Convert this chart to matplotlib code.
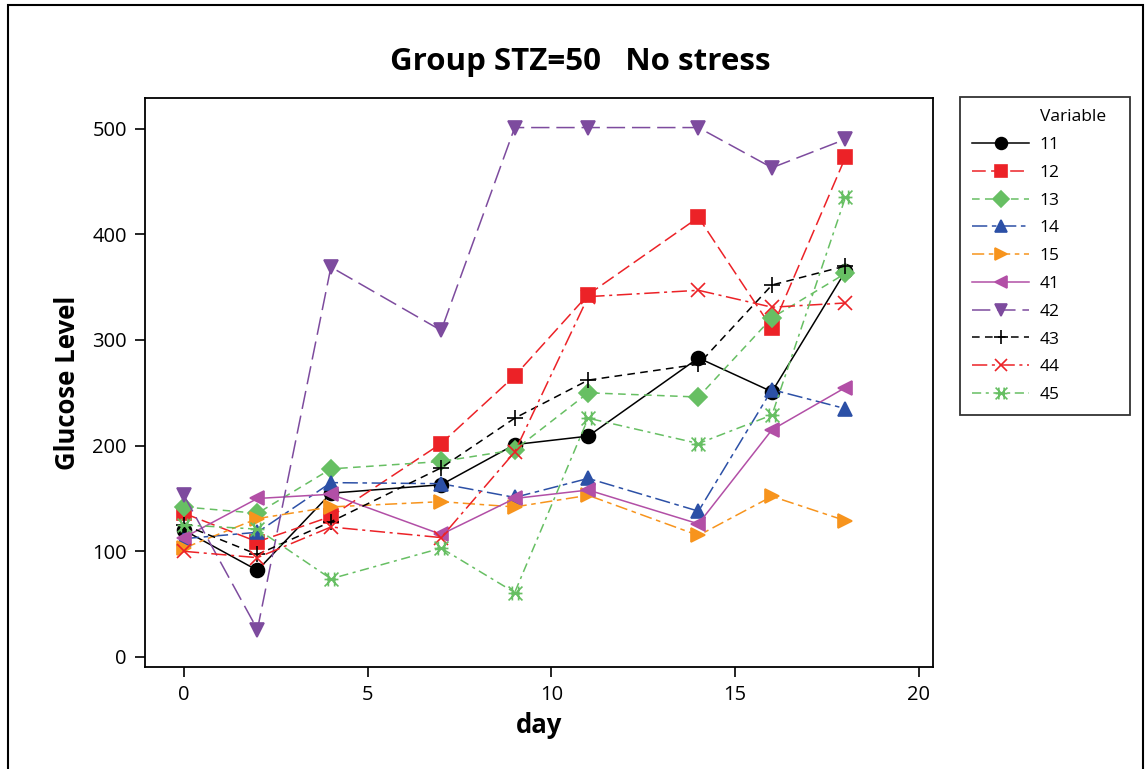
import matplotlib
matplotlib.use("Agg")
import matplotlib.pyplot as plt
from matplotlib.path import Path
from matplotlib.lines import Line2D
from matplotlib.patches import Rectangle

plt.rcParams['font.family'] = ['Open Sans', 'DejaVu Sans']

days = [0, 2, 4, 7, 9, 11, 14, 16, 18]
variables = ['11', '12', '13', '14', '15', '41', '42', '43', '44', '45']

glucose_11 = [120, 82, 155, 163, 201, 209, 283, 251, 365]
glucose_12 = [136, 109, 133, 202, 266, 343, 416, 311, 473]
glucose_13 = [142, 136, 178, 185, 196, 250, 246, 321, 363]
glucose_14 = [112, 118, 165, 164, 151, 169, 138, 253, 235]
glucose_15 = [103, 131, 142, 147, 142, 153, 115, 152, 129]
glucose_41 = [113, 150, 154, 116, 150, 158, 126, 215, 255]
glucose_42 = [153, 26, 369, 309, 501, 501, 501, 463, 490]
glucose_43 = [125, 97, 128, 179, 226, 262, 277, 352, 370]
glucose_44 = [100, 94, 123, 113, 194, 341, 347, 331, 335]
glucose_45 = [125, 121, 74, 103, 61, 226, 202, 229, 435]

series = [glucose_11, glucose_12, glucose_13, glucose_14, glucose_15,
          glucose_41, glucose_42, glucose_43, glucose_44, glucose_45]

# asterisk-like symbol: an X with a bar through the middle and side brackets
ast_verts = [(-1, -1), (1, 1), (-1, 1), (1, -1), (-1, 0), (1, 0),
             (-0.45, -1), (-0.45, 1), (0.45, -1), (0.45, 1)]
ast_codes = [Path.MOVETO, Path.LINETO] * 5
ast_marker = Path(ast_verts, ast_codes)

styles = [
    dict(color='black', marker='o', ls='-', ms=10),
    dict(color='#ec2227', marker='s', ls=(0, (9, 3.5)), ms=10),
    dict(color='#67bf63', marker='D', ls=(0, (5, 3.5)), ms=9),
    dict(color='#2c50a6', marker='^', ls=(0, (10, 3, 3, 3)), ms=10),
    dict(color='#f7941d', marker='>', ls=(0, (8, 3, 3, 3)), ms=10),
    dict(color='#b24fa6', marker='<', ls='-', ms=10),
    dict(color='#7d4b9e', marker='v', ls=(0, (12, 4.5)), ms=10),
    dict(color='black', marker='+', ls=(0, (5, 3.5)), ms=12),
    dict(color='#ec2227', marker='x', ls=(0, (10, 3, 2, 3)), ms=10),
    dict(color='#67bf63', marker=ast_marker, ls=(0, (6, 3, 2, 3)), ms=10),
]

fig = plt.figure(figsize=(11.45, 7.69), dpi=100)
ax = fig.add_axes([0.1266, 0.1326, 0.6882, 0.7400])

handles = []
for name, vals, st in zip(variables, series, styles):
    line, = ax.plot(days, vals, color=st['color'], linestyle=st['ls'],
                    linewidth=1.1, marker=st['marker'], markersize=st['ms'],
                    markerfacecolor=st['color'], markeredgecolor=st['color'],
                    markeredgewidth=1.2, label=name)
    handles.append(line)

ax.set_xlim(-1.06, 20.38)
ax.set_ylim(-9.5, 529)
ax.set_xticks([0, 5, 10, 15, 20])
ax.set_yticks([0, 100, 200, 300, 400, 500])
ax.tick_params(axis='both', direction='out', length=7, width=1.2,
               labelsize=14.5, pad=6, top=False, right=False)
for sp in ax.spines.values():
    sp.set_linewidth(1.3)

ax.set_xlabel('day', fontsize=18.5, fontweight='bold', labelpad=5)
ax.set_ylabel('Glucose Level', fontsize=18.5, fontweight='bold', labelpad=8)

fig.text(0.507, 0.919, 'Group STZ=50   No stress', ha='center', va='center',
         fontsize=22.5, fontweight='bold')

blank = Line2D([], [], linestyle='none', marker='none')
leg = fig.legend([blank] + handles, ['Variable'] + variables,
                 loc='upper left', bbox_to_anchor=(0.8384, 0.4642, 0.1485, 0.4097),
                 mode='expand', frameon=True, fancybox=False, edgecolor='black',
                 fontsize=12.5, handlelength=3.3, handletextpad=0.6,
                 labelspacing=0.67, borderpad=0.7, borderaxespad=0.0,
                 markerscale=0.85)
leg.get_frame().set_linewidth(1.3)

# outer frame around the graph region
fig.patches.append(Rectangle((0.007, -0.05), 0.991, 1.043, transform=fig.transFigure,
                             fill=False, edgecolor='black', linewidth=1.5))

fig.savefig('out.png', dpi=100)
